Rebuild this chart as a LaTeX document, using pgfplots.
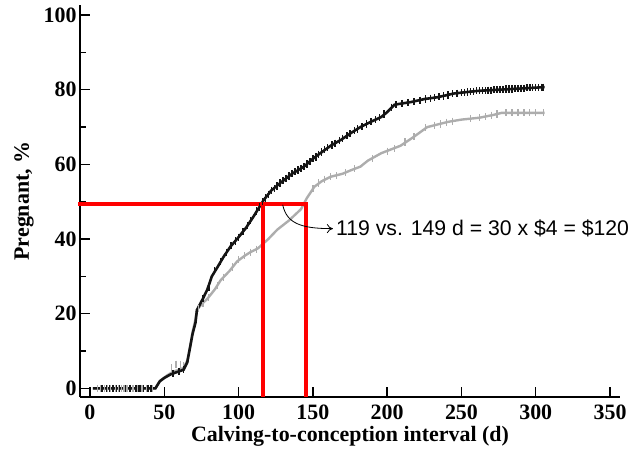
\documentclass[border=0pt]{standalone}
\usepackage{pgfplots}
\pgfplotsset{compat=1.18}
\usepackage{fontspec}
\setmainfont{Liberation Serif}
\newfontfamily\arialfont{Liberation Sans}
\usetikzlibrary{arrows.meta}
\begin{document}
\begin{tikzpicture}
\begin{axis}[
  scale only axis, width=540bp, height=392bp,
  at={(0,0)}, anchor=south west,
  xmin=-6.7, xmax=356.7, ymin=-2.3, ymax=102.7,
  axis x line*=bottom, axis y line*=left,
  xtick={0,50,...,350}, ytick={0,20,...,100},
  minor ytick={10,30,50,70,90},
  tick align=inside,
  major tick length=10bp, minor tick length=6bp,
  every tick/.style={black, line width=1.4bp},
  axis line style={line width=2.4bp, black},
  ticklabel style={font=\fontsize{22}{24}\selectfont\bfseries},
  xticklabel style={yshift=-4bp},
  /pgf/number format/assume math mode=true,
  xlabel={Calving-to-conception interval (d)},
  ylabel={Pregnant, \%},
  ylabel style={yshift=3bp},
  label style={font=\fontsize{22}{24}\selectfont\bfseries},
  clip=false,
]
% grey curve
\addplot[color=black!32, line width=2.4bp] coordinates {
(2,0)(44,0)(47,2)(52,3.5)(56,4.5)(60,5)(63,5.5)(65.5,7.5)(67.6,11.5)(69,15)(71,18.5)(72,21)(75,22.5)(79,24)(84,26.5)(88,29)(94,31.5)(99,34)(104,35.5)(108,36.5)(113,37.5)(120,40)(126,42.5)(134,45)(142,48)(146,51)(151,54)(156,55.5)(162,56.7)(170,57.5)(176,58.5)(182,59.4)(187,61)(196,63)(209,65)(218,67.4)(227,70)(235,70.8)(241,71.4)(250,72)(262,72.5)(272,73.3)(277,73.8)(306,73.8)
};
\addplot[only marks, color=black!32, mark=|, mark size=3.6bp, mark options={line width=1.3bp}] coordinates {
(5,0)(7,0)(10,0)(12,0)(14,0)(17,0)(19,0)(21,0)(23,0)(25,0)(29,0)(32,0)(35,0)(38,0)(42,0)
(55,5.5)(58,6.5)(61,6.5)(63,6)
(73,21.5)(76,22.8)(80,24.3)(86,27.5)(90,29.8)(96,32.5)
(100,34.5)(104,35.5)(108,36.5)(112,37.3)(150,53.5)(154,55)(158,56)(162,56.7)(166,57)(172,57.8)(178,58.8)(190,61.5)(200,63.5)(205,64.3)(212,66)(218,67.4)(226,69.8)(232,70.5)(236,70.8)(240,71.3)(244,71.6)(256,72.3)(262,72.5)(266,72.8)(270,73.2)(274,73.5)(280,73.8)(284,73.8)(288,73.8)(292,73.8)(296,73.8)(300,73.8)(305,73.8)
};
% black curve
\addplot[color=black!92, line width=2.6bp] coordinates {
(2,0)(44,0)(47,1.9)(50,2.8)(54,3.7)(58,4.3)(63,5)(65.5,7)(67.6,11.5)(69,14.5)(71,17.6)(72,21)(75.7,23.8)(79,26.5)(82,30)(86,32.6)(90,35.3)(94.6,38)(100,40.5)(105,43)(110,46)(117,50.5)(122,53)(128,55)(136,57.5)(144,59.4)(150,61.5)(155,63)(162,65)(169,66.6)(176,68.5)(182,70)(189,71.4)(196,72.7)(200,74)(205,76)(216,76.7)(225,77.5)(234,78)(245,79)(261,79.7)(284,80.2)(306,80.7)
};
\addplot[only marks, color=black!92, mark=|, mark size=3.6bp, mark options={line width=1.4bp}] coordinates {
(8,0)(11,0)(13,0)(15,0)(16,0)(18,0)(20,0)(24,0)(27,0)(31,0)(33,0)(34,0)(36,0)(39,0)(41,0)
(56,4)(60,4.6)(63,5)
(76,24)(80,27)(84,31.5)(88,34)(92,36.5)(95,38.3)
(98,39.5)(100,40.5)(103,42)(106,43.6)(108,45)(112,47.5)(114,48.6)(116,50)(118,51)(120,52)(122,53)(124,53.5)(126,54.2)(128,55)(130,55.7)(132,56.3)(134,56.9)(136,57.5)(138,58)(140,58.5)(142,59)(144,59.4)(146,60.1)(148,60.8)(150,61.5)(152,62)(154,62.7)(156,63.3)(158,63.9)(160,64.5)(163,65.2)(165,65.7)(168,66.4)(170,67)(173,67.7)(175,68.2)(178,69)(180,69.5)(183,70.1)(186,70.8)(189,71.4)(192,72)(195,72.5)(198,73.5)(203,75.3)(206,76)(210,76.3)(214,76.6)(218,76.8)(222,77.2)(226,77.5)(229,77.7)(232,77.9)(235,78.1)(238,78.3)(241,78.6)(244,78.9)(247,79.1)(250,79.2)(252,79.3)(254,79.4)(256,79.5)(258,79.6)(260,79.7)(262,79.7)(264,79.8)(266,79.8)(268,79.9)(270,79.9)(272,80)(274,80)(276,80.1)(278,80.1)(280,80.2)(282,80.2)(284,80.2)(286,80.3)(288,80.3)(290,80.4)(292,80.4)(294,80.5)(296,80.5)(298,80.5)(300,80.6)(302,80.6)(304,80.7)(305,80.7)
};
% red guide lines
\addplot[red, line width=4.2bp, line cap=rect] coordinates {(-6.7,49.3)(145.3,49.3)};
\addplot[red, line width=4.2bp] coordinates {(116.6,49.3)(116.6,-2.3)};
\addplot[red, line width=4.2bp] coordinates {(145.3,49.3)(145.3,-2.3)};
% annotation
\draw[line width=0.8bp, -{To[length=6bp,width=9bp]}] (axis cs:129.7,49.2) .. controls (axis cs:132.4,44.2) and (axis cs:141.9,42.8) .. (axis cs:163.5,42.8);
\node[anchor=west, inner sep=0pt, font=\arialfont\fontsize{21.3}{24}\selectfont] at (axis cs:165.5,42.8) {119 vs. 149 d = 30 x \$4 = \$120};
\end{axis}
\pgfresetboundingbox
\path[use as bounding box] (-80bp,-57bp) rectangle (554bp,397bp);
\end{tikzpicture}
\end{document}
